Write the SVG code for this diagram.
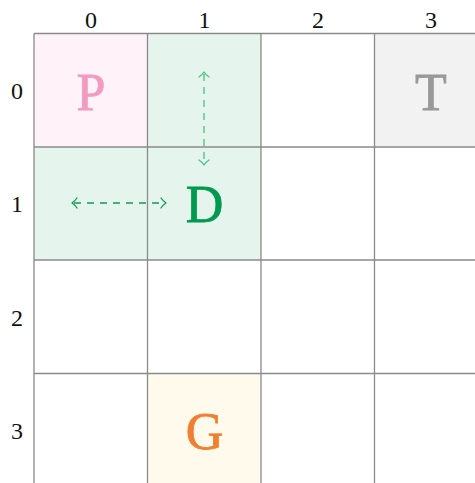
<svg xmlns="http://www.w3.org/2000/svg" width="475" height="483" viewBox="0 0 475 483">
<style>
.grid{stroke:#8a8a8a;stroke-width:1.3;fill:none}
.lbl{font-family:"Liberation Serif","DejaVu Serif",serif;font-size:24px;fill:#111;text-anchor:middle}
.big{font-family:"Liberation Serif","DejaVu Serif",serif;font-size:52px;text-anchor:middle;stroke-width:0.8}
.arr{fill:none;stroke-width:1.3;stroke-dasharray:7,6}
.head{fill:none;stroke-width:1.3;stroke-linecap:round;stroke-linejoin:round}
</style>
<rect width="475" height="483" fill="#fff"/>
<g id="cell-P"><rect x="34" y="33.5" width="113.5" height="113.5" fill="#fff2f9"/><text class="big" x="91" y="110" fill="#f29bc1" stroke="#f29bc1">P</text></g>
<g id="cell-01"><rect x="147.5" y="33.5" width="113.5" height="113.5" fill="#e5f4ec"/></g>
<g id="cell-10"><rect x="34" y="147" width="113.5" height="113" fill="#e5f4ec"/></g>
<g id="cell-D"><rect x="147.5" y="147" width="113.5" height="113" fill="#e5f4ec"/><text class="big" x="204.5" y="222" fill="#009a4e" stroke="#009a4e">D</text></g>
<g id="cell-T"><rect x="374.5" y="33.5" width="101" height="113.5" fill="#f2f2f2"/><text class="big" x="431" y="110" fill="#999" stroke="#999">T</text></g>
<g id="cell-G"><rect x="147.5" y="373.5" width="113.5" height="110" fill="#fffaec"/><text class="big" x="204.5" y="449" fill="#f08030" stroke="#f08030">G</text></g>
<g id="grid">
<path class="grid" d="M34 33.5V483M147.5 33.5V483M261 33.5V483M374.5 33.5V483M34 33.5H475M34 147H475M34 260H475M34 373.5H475"/>
</g>
<g id="labels">
<text class="lbl" x="91" y="28">0</text><text class="lbl" x="204.5" y="28">1</text><text class="lbl" x="318" y="28">2</text><text class="lbl" x="431" y="28">3</text>
<text class="lbl" x="17" y="99">0</text><text class="lbl" x="17" y="212">1</text><text class="lbl" x="17" y="326">2</text><text class="lbl" x="17" y="439">3</text>
</g>
<g id="connectors">
<g stroke="#4dbf84">
<path class="arr" d="M204 74V163"/>
<path class="head" d="M199 77Q202 75 204 72Q206 75 209 77"/>
<path class="head" d="M199 160Q202 162 204 165Q206 162 209 160"/>
</g>
<g stroke="#0f9a55">
<path class="arr" d="M74 203H164"/>
<path class="head" d="M77 198Q75 201 72 203Q75 205 77 208"/>
<path class="head" d="M161 198Q163 201 166 203Q163 205 161 208"/>
</g>
</g>
</svg>
